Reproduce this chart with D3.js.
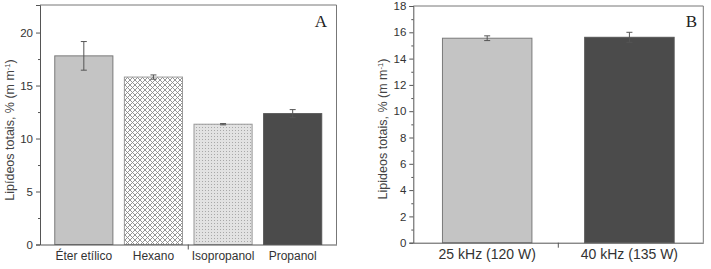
<!DOCTYPE html>
<html><head><meta charset="utf-8">
<script src="https://cdn.jsdelivr.net/npm/d3@7"></script>
<style>body{margin:0;background:#fff}svg{display:block}</style>
</head><body>
<svg id="c" width="711" height="269"></svg>
<script>
// Panel A data
const catsA = ["Éter etílico", "Hexano", "Isopropanol", "Propanol"];
const valsA = [17.8, 15.8, 11.35, 12.35];
const errsA = [1.35, 0.2, 0.06, 0.38];
const ticksA = [0, 5, 10, 15, 20];
// Panel B data
const catsB = ["25 kHz (120 W)", "40 kHz (135 W)"];
const valsB = [15.55, 15.62];
const errsB = [0.18, 0.38];
const ticksB = [0, 2, 4, 6, 8, 10, 12, 14, 16, 18];

const svg = d3.select("#c");
const SANS = "'Liberation Sans', Arial, sans-serif";
const SERIF = "'Liberation Serif', 'Times New Roman', serif";
const axisCol = "#555";

const defs = svg.append("defs");
// crosshatch
const ph = defs.append("pattern").attr("id","hatch").attr("patternUnits","userSpaceOnUse")
  .attr("width",5).attr("height",5);
ph.append("rect").attr("width",5).attr("height",5).attr("fill","#fff");
ph.append("path").attr("d","M0,0L5,5M5,0L0,5M-1,4L1,6M4,-1L6,1M-1,1L1,-1M4,6L6,4")
  .attr("stroke","#8a8a8a").attr("stroke-width",0.9);
// dots
const pd = defs.append("pattern").attr("id","dots").attr("patternUnits","userSpaceOnUse")
  .attr("width",3).attr("height",3);
pd.append("rect").attr("width",3).attr("height",3).attr("fill","#e2e2e2");
pd.append("rect").attr("x",1).attr("y",1).attr("width",1).attr("height",1).attr("fill","#a8a8a8");

function panel(o){
  const g = svg.append("g");
  const y = d3.scaleLinear().domain([0, o.ymax]).range([o.y0, o.y1]);
  const x = d3.scaleBand().domain(o.cats).range([o.x0, o.x1])
    .paddingInner(o.pi).paddingOuter(o.po);
  // frame
  g.append("path").attr("d",`M${o.x0},${o.y1}H${o.x1}V${o.y0}`)
    .attr("fill","none").attr("stroke","#777").attr("stroke-width",1);
  // bars
  g.selectAll(".bar").data(o.cats).join("rect")
    .attr("x", d => x(d)).attr("width", x.bandwidth())
    .attr("y", (d,i) => y(o.vals[i])).attr("height", (d,i) => o.y0 - y(o.vals[i]))
    .attr("fill", (d,i) => o.fills[i]).attr("stroke", (d,i)=>o.strokes[i]).attr("stroke-width",1);
  // error bars
  o.cats.forEach((c,i) => {
    const cx = x(c) + x.bandwidth()/2;
    const t = y(o.vals[i] + o.errs[i]), b = y(o.vals[i] - o.errs[i]);
    g.append("path").attr("d",`M${cx},${t}V${b}M${cx-3},${t}H${cx+3}M${cx-3},${b}H${cx+3}`)
      .attr("stroke","#555").attr("stroke-width",1).attr("fill","none");
  });
  // y axis major
  const ya = g.append("g").attr("transform",`translate(${o.x0},0)`)
    .call(d3.axisLeft(y).tickValues(o.ticks).tickSize(4).tickPadding(3).tickFormat(d3.format("d")));
  ya.select(".domain").attr("stroke",axisCol);
  ya.selectAll(".tick line").attr("stroke",axisCol);
  ya.selectAll("text").attr("font-family",SANS).attr("font-size",o.tickFs).attr("fill","#333");
  // minor ticks
  g.append("g").attr("transform",`translate(${o.x0},0)`)
    .call(d3.axisLeft(y).tickValues(o.minor).tickSize(2).tickFormat(""))
    .call(s => { s.select(".domain").remove(); s.selectAll("line").attr("stroke",axisCol); });
  // x axis
  const xa = g.append("g").attr("transform",`translate(0,${o.y0})`)
    .call(d3.axisBottom(x).tickSize(0).tickPadding(o.xpad));
  xa.select(".domain").attr("stroke",axisCol);
  xa.selectAll("text").attr("font-family",SANS).attr("font-size",o.xFs).attr("fill","#333");
  const mid = (o.x0 + o.x1)/2;
  g.append("line").attr("x1",mid).attr("x2",mid).attr("y1",o.y0).attr("y2",o.y0+5).attr("stroke",axisCol);
  // y label
  const lab = g.append("text").attr("transform",`translate(${o.lx},${o.ly}) rotate(-90)`)
    .attr("text-anchor","middle").attr("font-family",SANS).attr("font-size",12.5).attr("fill","#444");
  lab.append("tspan").text(o.ylabel);
  lab.append("tspan").attr("font-size",7.5).attr("dy",-4).text("-1");
  lab.append("tspan").attr("dy",4).text(")");
  // panel letter
  g.append("text").attr("x",o.lettX).attr("y",27).attr("font-family",SERIF).attr("font-size",17)
    .attr("fill","#222").attr("text-anchor","end").text(o.letter);
}

panel({cats:catsA, vals:valsA, errs:errsA, ticks:ticksA, minor:[2.5,7.5,12.5,17.5],
  ymax:22.6, y0:244.5, y1:5, x0:40, x1:336.5, pi:0.165, po:0.212,
  fills:["#c4c4c4","url(#hatch)","url(#dots)","#4b4b4b"],
  strokes:["#7a7a7a","#999","#999","#555"],
  tickFs:11.5, xFs:12, xpad:7, lx:14, ly:130, ylabel:"Lipídeos totais, % (m m", letter:"A", lettX:327});

panel({cats:catsB, vals:valsB, errs:errsB, ticks:ticksB, minor:[1,3,5,7,9,11,13,15,17],
  ymax:18, y0:242.7, y1:6, x0:413.3, x1:703.3, pi:0.371, po:0.205,
  fills:["#c4c4c4","#4b4b4b"], strokes:["#7a7a7a","#555"],
  tickFs:11.5, xFs:14, xpad:6, lx:387, ly:129, ylabel:"Lipideos totais, % (m m", letter:"B", lettX:697});
</script>
</body></html>
